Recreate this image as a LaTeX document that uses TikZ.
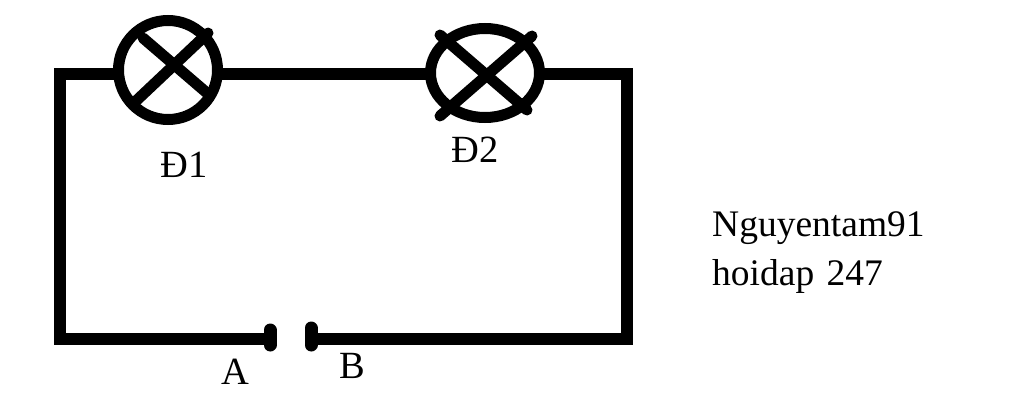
\documentclass[tikz,border=0pt]{standalone}
\usepackage{fontspec}
\setmainfont{Liberation Serif}
\usetikzlibrary{shapes.geometric}
\tikzset{
  wire/.style={line width=12pt,line cap=butt,line join=miter},
  stroke/.style={line width=11pt,line cap=round},
  bulbA/.style={circle,draw,line width=11pt,minimum size=99pt,inner sep=0pt,outer sep=0pt},
  bulbB/.style={ellipse,draw,line width=11pt,minimum width=109pt,minimum height=89pt,inner sep=0pt,outer sep=0pt},
  plate/.style={line width=13pt,line cap=round},
  lbl/.style={anchor=base west,inner sep=0pt,font=\fontsize{37.5}{37.5}\selectfont},
  tag/.style={anchor=base west,inner sep=0pt,font=\fontsize{38.5}{38.5}\selectfont}
}
\begin{document}
\begin{tikzpicture}[x=1pt,y=-1pt]
\useasboundingbox[fill=white] (0,0) rectangle (1024,404);
\node[bulbA] (d1) at (168,70) {};
\node[bulbB] (d2) at (485,73) {};
\coordinate (tl) at (60,74);
\coordinate (bl) at (60,339);
\coordinate (tr) at (627,74);
\coordinate (br) at (627,339);
\coordinate (a) at (270,339);
\coordinate (b) at (311,339);
\coordinate (a1) at (270,330);
\coordinate (a2) at (270,345);
\coordinate (b1) at (311,328);
\coordinate (b2) at (311,345);
\draw[wire] (a) -- (bl) -- (tl) -- (d1.west |- tl);
\draw[wire] (d1.east |- tl) -- (d2.west |- tl);
\draw[wire] (d2.east |- tr) -- (tr) -- (br) -- (b);
\draw[plate] (a1) -- (a2);
\draw[plate] (b1) -- (b2);
\coordinate (c1a) at (137,100); \coordinate (c1b) at (208,33);
\coordinate (c1c) at (143,38);  \coordinate (c1d) at (207,93);
\draw[stroke] (c1a) -- (c1b);
\draw[stroke] (c1c) -- (c1d);
\coordinate (c2a) at (440,116); \coordinate (c2b) at (532,36);
\coordinate (c2c) at (440,35);  \coordinate (c2d) at (527,110);
\draw[stroke] (c2a) -- (c2b);
\draw[stroke] (c2c) -- (c2d);
\node[tag] (l1) at (160,177) {Đ1};
\node[tag] (l2) at (451,162) {Đ2};
\node[tag] (la) at (221,384) {A};
\node[tag] (lb) at (339,378) {B};
\node[lbl] (t1) at (712,236) {Nguyentam91};
\node[lbl] (t2) at (712,285) {hoidap\hspace{3pt} 247};
\end{tikzpicture}
\end{document}
